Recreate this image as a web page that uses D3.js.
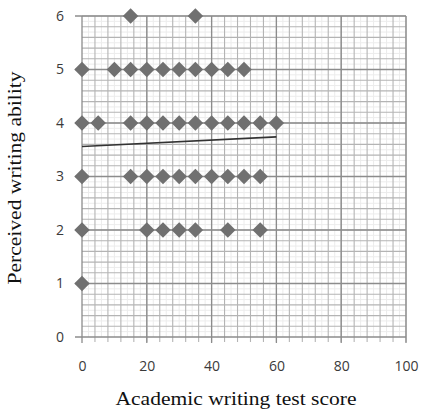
<!DOCTYPE html>
<html>
<head>
<meta charset="utf-8">
<script src="https://cdn.jsdelivr.net/npm/d3@7"></script>
<style>
  html, body { margin: 0; padding: 0; background: #fff; }
  svg { display: block; }
</style>
</head>
<body>
<svg id="chart" width="423" height="411"></svg>
<script>
// Survey responses: test score (x) against self-rated writing ability (y)
const scores  = [15, 35,
                 0, 10, 15, 20, 25, 30, 35, 40, 45, 50,
                 0, 5, 15, 20, 25, 30, 35, 40, 45, 50, 55, 60,
                 0, 15, 20, 25, 30, 35, 40, 45, 50, 55,
                 0, 20, 25, 30, 35, 45, 55,
                 0];
const ratings = [6, 6,
                 5, 5, 5, 5, 5, 5, 5, 5, 5, 5,
                 4, 4, 4, 4, 4, 4, 4, 4, 4, 4, 4, 4,
                 3, 3, 3, 3, 3, 3, 3, 3, 3, 3,
                 2, 2, 2, 2, 2, 2, 2,
                 1];

// Linear trend line end points
const trendX = [0, 60];
const trendY = [3.56, 3.74];

const xTicks = [0, 20, 40, 60, 80, 100];
const yTicks = [0, 1, 2, 3, 4, 5, 6];
const xTitle = "Academic writing test score";
const yTitle = "Perceived writing ability";

const svg = d3.select("#chart");
const plotL = 82, plotR = 406, plotT = 16, plotB = 337;

const x = d3.scaleLinear().domain([0, 100]).range([plotL, plotR]);
const y = d3.scaleLinear().domain([0, 6]).range([plotB, plotT]);

const grid = svg.append("g");

// faint half-step lines
grid.selectAll("line.fx").data(d3.range(2, 100, 4)).join("line")
  .attr("x1", d => x(d)).attr("x2", d => x(d))
  .attr("y1", plotT).attr("y2", plotB)
  .attr("stroke", "#ececec").attr("stroke-width", 1);
grid.selectAll("line.fy").data(d3.range(0.1, 6, 0.2)).join("line")
  .attr("y1", d => y(d)).attr("y2", d => y(d))
  .attr("x1", plotL).attr("x2", plotR)
  .attr("stroke", "#ececec").attr("stroke-width", 1);

// minor gridlines
grid.selectAll("line.mx").data(d3.range(4, 101, 4)).join("line")
  .attr("x1", d => x(d)).attr("x2", d => x(d))
  .attr("y1", plotT).attr("y2", plotB + 5)
  .attr("stroke", "#b4b4b4").attr("stroke-width", 1.1);
grid.selectAll("line.my").data(d3.range(0.2, 6.01, 0.2)).join("line")
  .attr("y1", d => y(d)).attr("y2", d => y(d))
  .attr("x1", plotL).attr("x2", plotR)
  .attr("stroke", "#b4b4b4").attr("stroke-width", 1.1);

// major gridlines
grid.selectAll("line.Mx").data(xTicks).join("line")
  .attr("x1", d => x(d)).attr("x2", d => x(d))
  .attr("y1", plotT).attr("y2", plotB + 6)
  .attr("stroke", "#8c8c8c").attr("stroke-width", 1.3);
grid.selectAll("line.My").data(yTicks).join("line")
  .attr("y1", d => y(d)).attr("y2", d => y(d))
  .attr("x1", plotL - 7).attr("x2", plotR)
  .attr("stroke", "#8c8c8c").attr("stroke-width", 1.3);

// tick labels via d3 axes
const xAxis = svg.append("g").attr("transform", `translate(0,${plotB})`)
  .call(d3.axisBottom(x).tickValues(xTicks).tickFormat(d3.format("d"))
    .tickSize(0).tickPadding(24));
const yAxis = svg.append("g").attr("transform", `translate(${plotL},0)`)
  .call(d3.axisLeft(y).tickValues(yTicks).tickFormat(d3.format("d"))
    .tickSize(0).tickPadding(18));
[xAxis, yAxis].forEach(a => {
  a.select(".domain").remove();
  a.selectAll("text")
    .attr("font-family", "'Open Sans', 'Liberation Sans', sans-serif")
    .attr("font-size", 14).attr("fill", "#3a3a3a");
});

// trend line
svg.append("line")
  .attr("x1", x(trendX[0])).attr("y1", y(trendY[0]))
  .attr("x2", x(trendX[1])).attr("y2", y(trendY[1]))
  .attr("stroke", "#333").attr("stroke-width", 1.6);

// diamond markers
const pts = scores.map((s, i) => [s, ratings[i]]);
svg.append("g").selectAll("path").data(pts).join("path")
  .attr("d", d3.symbol(d3.symbolSquare, 120))
  .attr("transform", d => `translate(${x(d[0])},${y(d[1])}) rotate(45)`)
  .attr("fill", "#707070");

// axis titles
svg.append("text")
  .attr("x", 236).attr("y", 405)
  .attr("text-anchor", "middle")
  .attr("textLength", 241).attr("lengthAdjust", "spacingAndGlyphs")
  .attr("font-family", "'Liberation Serif', 'Times New Roman', serif")
  .attr("font-size", 18).attr("fill", "#111")
  .text(xTitle);
svg.append("text")
  .attr("transform", `translate(21,178) rotate(-90)`)
  .attr("text-anchor", "middle")
  .attr("textLength", 213).attr("lengthAdjust", "spacingAndGlyphs")
  .attr("font-family", "'Liberation Serif', 'Times New Roman', serif")
  .attr("font-size", 18).attr("fill", "#111")
  .text(yTitle);
</script>
</body>
</html>
